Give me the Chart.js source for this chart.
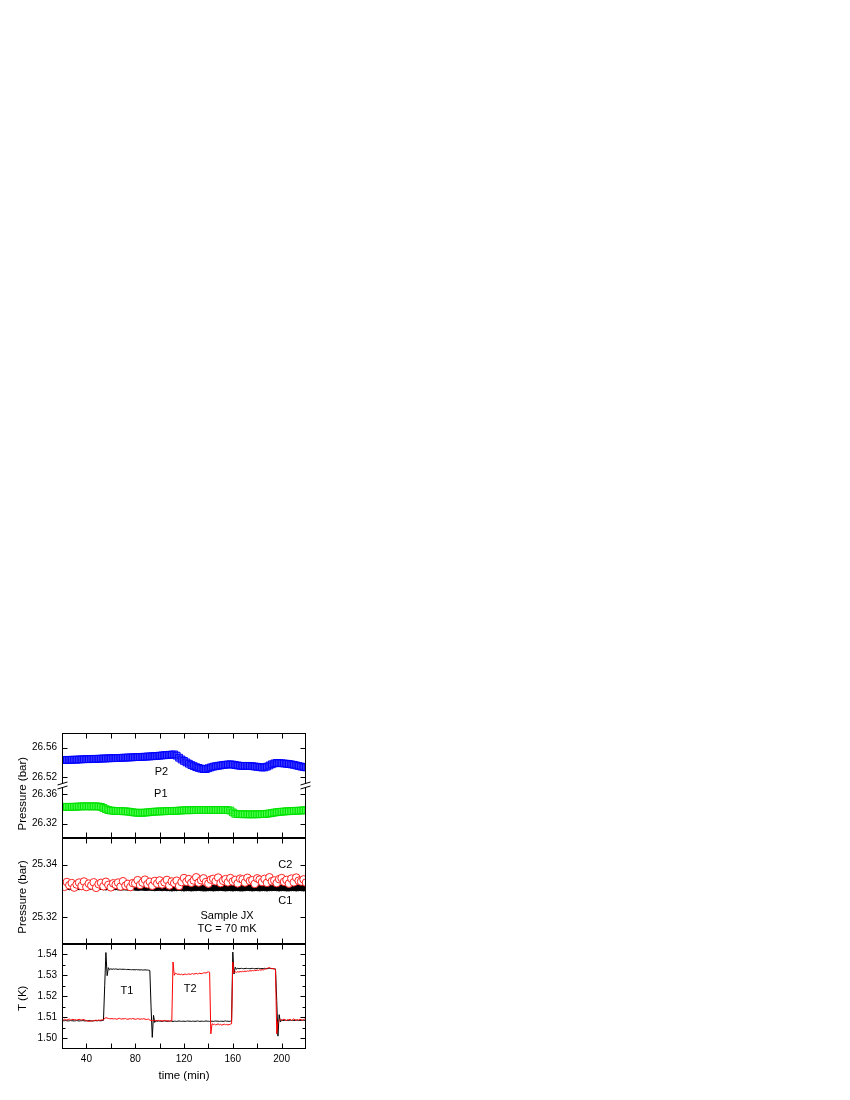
<!DOCTYPE html>
<html>
<head>
<meta charset="utf-8">
<script src="https://cdn.jsdelivr.net/npm/chart.js@4.4.1/dist/chart.umd.min.js"></script>
<style>
  html, body { margin: 0; padding: 0; background: #fff; }
  #wrap { position: relative; width: 850px; height: 1100px; }
  #fig { position: absolute; left: 0; top: 700px; }
</style>
</head>
<body>
<div id="wrap"><canvas id="fig" width="330" height="400"></canvas></div>
<script>
// sample times (min)
function range(a, b, step) {
    const out = [];
    for (let v = a; v <= b + 1e-9; v += step) out.push(v);
    return out;
}
const tP = range(20, 220, 2);   // pressure sampling
const tT = range(20, 220, 1);   // temperature sampling

// P2 (bar), upper part of top panel
const P2 = [
    26.5430, 26.5431, 26.5433, 26.5432, 26.5434, 26.5436, 26.5435, 26.5438, 26.5440, 26.5441,
    26.5443, 26.5442, 26.5445, 26.5447, 26.5446, 26.5448, 26.5450, 26.5451, 26.5452, 26.5454,
    26.5455, 26.5456, 26.5458, 26.5457, 26.5460, 26.5462, 26.5463, 26.5465, 26.5466, 26.5468,
    26.5470, 26.5471, 26.5472, 26.5474, 26.5476, 26.5478, 26.5480, 26.5482, 26.5484, 26.5487,
    26.5490, 26.5493, 26.5496, 26.5499, 26.5502, 26.5505, 26.5507, 26.5490, 26.5462, 26.5438,
    26.5418, 26.5398, 26.5380, 26.5362, 26.5347, 26.5333, 26.5322, 26.5313, 26.5307, 26.5308,
    26.5318, 26.5330, 26.5340, 26.5346, 26.5352, 26.5357, 26.5362, 26.5366, 26.5370, 26.5372,
    26.5368, 26.5362, 26.5356, 26.5352, 26.5350, 26.5350, 26.5351, 26.5349, 26.5346, 26.5342,
    26.5338, 26.5333, 26.5328, 26.5330, 26.5340, 26.5356, 26.5372, 26.5384, 26.5390, 26.5390,
    26.5386, 26.5383, 26.5380, 26.5376, 26.5371, 26.5365, 26.5357, 26.5349, 26.5341, 26.5335,
    26.5330
];

// P1 (bar), lower part of top panel
const P1 = [
    26.3430, 26.3431, 26.3429, 26.3430, 26.3432, 26.3431, 26.3433, 26.3435, 26.3436, 26.3438,
    26.3437, 26.3438, 26.3436, 26.3437, 26.3438, 26.3435, 26.3430, 26.3415, 26.3398, 26.3386,
    26.3380, 26.3377, 26.3375, 26.3374, 26.3372, 26.3370, 26.3369, 26.3366, 26.3362, 26.3356,
    26.3352, 26.3350, 26.3349, 26.3350, 26.3352, 26.3354, 26.3358, 26.3362, 26.3365, 26.3366,
    26.3368, 26.3369, 26.3370, 26.3372, 26.3373, 26.3374, 26.3375, 26.3377, 26.3379, 26.3381,
    26.3383, 26.3384, 26.3385, 26.3384, 26.3386, 26.3387, 26.3386, 26.3388, 26.3387, 26.3386,
    26.3387, 26.3388, 26.3387, 26.3386, 26.3387, 26.3388, 26.3387, 26.3386, 26.3385, 26.3380,
    26.3355, 26.3336, 26.3331, 26.3330, 26.3329, 26.3330, 26.3328, 26.3327, 26.3328, 26.3329,
    26.3328, 26.3330, 26.3331, 26.3333, 26.3336, 26.3340, 26.3346, 26.3352, 26.3357, 26.3361,
    26.3364, 26.3367, 26.3369, 26.3371, 26.3373, 26.3375, 26.3377, 26.3378, 26.3380, 26.3382,
    26.3384
];

// C2 (bar), open red circles
const C2 = [
    25.3327, 25.3316, 25.3334, 25.3322, 25.3330, 25.3313, 25.3325, 25.3332, 25.3319, 25.3336,
    25.3315, 25.3328, 25.3321, 25.3333, 25.3312, 25.3326, 25.3331, 25.3318, 25.3335, 25.3323,
    25.3314, 25.3329, 25.3324, 25.3332, 25.3317, 25.3337, 25.3320, 25.3327, 25.3315, 25.3330,
    25.3329, 25.3341, 25.3323, 25.3332, 25.3343, 25.3326, 25.3335, 25.3320, 25.3338, 25.3328,
    25.3340, 25.3325, 25.3333, 25.3342, 25.3321, 25.3336, 25.3330, 25.3339, 25.3319, 25.3334,
    25.3349, 25.3335, 25.3345, 25.3331, 25.3340, 25.3352, 25.3332, 25.3341, 25.3348, 25.3334,
    25.3328, 25.3343, 25.3346, 25.3337, 25.3351, 25.3330, 25.3339, 25.3345, 25.3333, 25.3349,
    25.3336, 25.3342, 25.3329, 25.3347, 25.3344, 25.3332, 25.3350, 25.3338, 25.3341, 25.3327,
    25.3348, 25.3343, 25.3334, 25.3346, 25.3331, 25.3352, 25.3337, 25.3340, 25.3330, 25.3345,
    25.3349, 25.3335, 25.3342, 25.3328, 25.3347, 25.3333, 25.3351, 25.3339, 25.3336, 25.3344,
    25.3332
];

// C1 (bar), filled black circles
const C1 = [
    25.3317, 25.3318, 25.3317, 25.3316, 25.3317, 25.3318, 25.3317, 25.3316, 25.3317, 25.3317,
    25.3316, 25.3317, 25.3318, 25.3317, 25.3316, 25.3316, 25.3317, 25.3316, 25.3315, 25.3316,
    25.3316, 25.3315, 25.3316, 25.3315, 25.3314, 25.3315, 25.3315, 25.3314, 25.3314, 25.3315,
    25.3314, 25.3313, 25.3314, 25.3314, 25.3313, 25.3313, 25.3314, 25.3313, 25.3312, 25.3313,
    25.3313, 25.3312, 25.3313, 25.3312, 25.3312, 25.3311, 25.3312, 25.3312, 25.3313, 25.3312,
    25.3311, 25.3312, 25.3312, 25.3311, 25.3312, 25.3312, 25.3313, 25.3312, 25.3311, 25.3311,
    25.3312, 25.3312, 25.3311, 25.3312, 25.3312, 25.3313, 25.3312, 25.3311, 25.3312, 25.3312,
    25.3311, 25.3312, 25.3312, 25.3311, 25.3311, 25.3312, 25.3313, 25.3312, 25.3311, 25.3312,
    25.3312, 25.3311, 25.3312, 25.3312, 25.3311, 25.3312, 25.3312, 25.3313, 25.3312, 25.3311,
    25.3312, 25.3312, 25.3311, 25.3311, 25.3312, 25.3312, 25.3311, 25.3312, 25.3312, 25.3311,
    25.3312
];

// T1 (K), black line
const T1 = [
    1.5085, 1.5084, 1.5084, 1.5085, 1.5084, 1.5083, 1.5084, 1.5085, 1.5084, 1.5084,
    1.5083, 1.5084, 1.5085, 1.5084, 1.5083, 1.5084, 1.5084, 1.5085, 1.5084, 1.5083,
    1.5084, 1.5084, 1.5085, 1.5084, 1.5084, 1.5083, 1.5084, 1.5085, 1.5084, 1.5084,
    1.5085, 1.5084, 1.5084, 1.5085, 1.5086, 1.5250, 1.5408, 1.5298, 1.5336, 1.5326,
    1.5331, 1.5328, 1.5330, 1.5329, 1.5330, 1.5329, 1.5328, 1.5329, 1.5329, 1.5328,
    1.5329, 1.5328, 1.5328, 1.5327, 1.5328, 1.5327, 1.5327, 1.5326, 1.5327, 1.5326,
    1.5326, 1.5327, 1.5326, 1.5326, 1.5325, 1.5326, 1.5325, 1.5325, 1.5326, 1.5325,
    1.5325, 1.5324, 1.5323, 1.5150, 1.5005, 1.5110, 1.5076, 1.5085, 1.5081, 1.5083,
    1.5082, 1.5082, 1.5081, 1.5082, 1.5083, 1.5082, 1.5081, 1.5082, 1.5082, 1.5083,
    1.5082, 1.5081, 1.5082, 1.5082, 1.5081, 1.5082, 1.5083, 1.5082, 1.5081, 1.5082,
    1.5082, 1.5081, 1.5082, 1.5083, 1.5082, 1.5082, 1.5081, 1.5082, 1.5082, 1.5081,
    1.5082, 1.5083, 1.5082, 1.5081, 1.5082, 1.5082, 1.5081, 1.5082, 1.5083, 1.5082,
    1.5082, 1.5081, 1.5082, 1.5082, 1.5081, 1.5082, 1.5083, 1.5082, 1.5082, 1.5081,
    1.5082, 1.5082, 1.5081, 1.5082, 1.5083, 1.5082, 1.5082, 1.5081, 1.5082, 1.5084,
    1.5410, 1.5306, 1.5338, 1.5328, 1.5334, 1.5331, 1.5332, 1.5333, 1.5332, 1.5331,
    1.5332, 1.5333, 1.5332, 1.5332, 1.5331, 1.5332, 1.5333, 1.5332, 1.5331, 1.5332,
    1.5332, 1.5333, 1.5332, 1.5331, 1.5332, 1.5332, 1.5333, 1.5332, 1.5331, 1.5332,
    1.5333, 1.5332, 1.5332, 1.5331, 1.5330, 1.5330, 1.5180, 1.5011, 1.5113, 1.5078,
    1.5089, 1.5085, 1.5086, 1.5087, 1.5086, 1.5085, 1.5086, 1.5087, 1.5086, 1.5086,
    1.5085, 1.5086, 1.5087, 1.5086, 1.5085, 1.5086, 1.5086, 1.5087, 1.5086, 1.5085,
    1.5086
];

// T2 (K), red line
const T2 = [
    1.5090, 1.5088, 1.5091, 1.5089, 1.5087, 1.5090, 1.5092, 1.5088, 1.5089, 1.5091,
    1.5088, 1.5090, 1.5087, 1.5089, 1.5091, 1.5089, 1.5088, 1.5090, 1.5089, 1.5087,
    1.5084, 1.5082, 1.5081, 1.5083, 1.5082, 1.5084, 1.5083, 1.5086, 1.5087, 1.5085,
    1.5088, 1.5086, 1.5087, 1.5089, 1.5088, 1.5096, 1.5098, 1.5097, 1.5095, 1.5094,
    1.5093, 1.5095, 1.5092, 1.5094, 1.5093, 1.5091, 1.5094, 1.5096, 1.5093, 1.5092,
    1.5094, 1.5093, 1.5095, 1.5092, 1.5091, 1.5093, 1.5094, 1.5092, 1.5095, 1.5093,
    1.5091, 1.5092, 1.5094, 1.5093, 1.5091, 1.5093, 1.5092, 1.5094, 1.5092, 1.5090,
    1.5091, 1.5092, 1.5087, 1.5086, 1.5084, 1.5086, 1.5085, 1.5083, 1.5085, 1.5086,
    1.5084, 1.5085, 1.5083, 1.5084, 1.5086, 1.5085, 1.5083, 1.5084, 1.5082, 1.5084,
    1.5083, 1.5363, 1.5300, 1.5310, 1.5307, 1.5304, 1.5306, 1.5303, 1.5305, 1.5302,
    1.5304, 1.5306, 1.5303, 1.5305, 1.5307, 1.5304, 1.5306, 1.5308, 1.5305, 1.5307,
    1.5309, 1.5306, 1.5308, 1.5310, 1.5307, 1.5309, 1.5311, 1.5312, 1.5310, 1.5314,
    1.5316, 1.5314, 1.5022, 1.5070, 1.5066, 1.5068, 1.5064, 1.5067, 1.5069, 1.5065,
    1.5067, 1.5063, 1.5066, 1.5068, 1.5065, 1.5067, 1.5064, 1.5066, 1.5068, 1.5070,
    1.5363, 1.5312, 1.5316, 1.5314, 1.5317, 1.5315, 1.5318, 1.5316, 1.5319, 1.5317,
    1.5320, 1.5318, 1.5321, 1.5319, 1.5322, 1.5320, 1.5323, 1.5321, 1.5324, 1.5322,
    1.5325, 1.5323, 1.5326, 1.5324, 1.5327, 1.5325, 1.5328, 1.5330, 1.5332, 1.5335,
    1.5337, 1.5333, 1.5331, 1.5333, 1.5330, 1.5328, 1.5022, 1.5080, 1.5087, 1.5090,
    1.5086, 1.5089, 1.5092, 1.5087, 1.5085, 1.5090, 1.5088, 1.5091, 1.5086, 1.5089,
    1.5093, 1.5088, 1.5086, 1.5090, 1.5087, 1.5091, 1.5089, 1.5086, 1.5090, 1.5092,
    1.5088
];

// ticks
const xTickLabels = [40, 80, 120, 160, 200];
const xTickMarks = [40, 60, 80, 100, 120, 140, 160, 180, 200];
const yTicksP2 = [26.52, 26.56];
const yTicksP1 = [26.32, 26.36];
const yTicksC = [25.32, 25.34];
const yTicksT = [1.50, 1.51, 1.52, 1.53, 1.54];
const yMinorT = [1.505, 1.515, 1.525, 1.535];

// in-plot labels: [text, x (min), y value, axis]
const notes = [
    ['P2', 101.5, 26.5264, 'yP2'],
    ['P1', 101.0, 26.3604, 'yP1'],
    ['C2', 203.0, 25.3400, 'yC'],
    ['C1', 203.0, 25.3262, 'yC'],
    ['Sample JX', 155.3, 25.3205, 'yC'],
    ['TC = 70 mK', 155.3, 25.3155, 'yC'],
    ['T1', 73.2, 1.5224, 'yT'],
    ['T2', 125.0, 1.5233, 'yT']
];

const FONT = "'Liberation Sans', Arial, sans-serif";
const pts = (xs, ys) => ys.map((v, i) => ({ x: xs[i], y: v }));

// frames, inward ticks, axis break, titles and labels
const panelPlugin = {
    id: 'panelPlugin',
    afterDatasetsDraw: (chart) => {
        const ctx = chart.ctx;
        const s = chart.scales;
        const L = Math.round(chart.chartArea.left) + 0.5;
        const R = Math.round(chart.chartArea.right) - 0.5;
        const panels = [
            [s.yP2.top, s.yP1.bottom],
            [s.yC.top, s.yC.bottom],
            [s.yT.top, s.yT.bottom]
        ];
        ctx.save();
        ctx.strokeStyle = '#000';
        ctx.lineWidth = 1;

        panels.forEach(([top, bottom]) => {
            const t = Math.round(top) + 0.5;
            const b = Math.round(bottom) - 0.5;
            ctx.strokeRect(L, t, R - L, b - t);
            ctx.beginPath();
            xTickMarks.forEach(v => {
                const x = Math.round(s.x.getPixelForValue(v)) + 0.5;
                ctx.moveTo(x, t); ctx.lineTo(x, t + 5);
                ctx.moveTo(x, b); ctx.lineTo(x, b - 5);
            });
            ctx.stroke();
        });

        const yTicks = (scale, list, len) => {
            ctx.beginPath();
            list.forEach(v => {
                const y = Math.round(scale.getPixelForValue(v)) + 0.5;
                ctx.moveTo(L, y); ctx.lineTo(L + len, y);
                ctx.moveTo(R, y); ctx.lineTo(R - len, y);
            });
            ctx.stroke();
        };
        yTicks(s.yP2, yTicksP2, 5);
        yTicks(s.yP1, yTicksP1, 5);
        yTicks(s.yC, yTicksC, 5);
        yTicks(s.yT, yTicksT, 5);
        yTicks(s.yT, yMinorT, 3);

        // axis break marks
        const yb = Math.round(s.yP2.bottom);
        [L, R].forEach(x => {
            ctx.fillStyle = '#fff';
            ctx.fillRect(x - 5, yb - 2, 10, 4);
            ctx.beginPath();
            ctx.moveTo(x - 5, yb - 1); ctx.lineTo(x + 5, yb - 4);
            ctx.moveTo(x - 5, yb + 3); ctx.lineTo(x + 5, yb);
            ctx.stroke();
        });

        // axis titles
        ctx.fillStyle = '#000';
        ctx.font = '11.5px ' + FONT;
        ctx.textAlign = 'center';
        ctx.textBaseline = 'middle';
        const vTitle = (text, y) => {
            ctx.save();
            ctx.translate(23, y);
            ctx.rotate(-Math.PI / 2);
            ctx.fillText(text, 0, 0);
            ctx.restore();
        };
        vTitle('Pressure (bar)', (s.yP2.top + s.yP1.bottom) / 2 + 8);
        vTitle('Pressure (bar)', (s.yC.top + s.yC.bottom) / 2 + 6);
        vTitle('T (K)', (s.yT.top + s.yT.bottom) / 2 + 2);
        ctx.fillText('time (min)', (chart.chartArea.left + chart.chartArea.right) / 2, s.yT.bottom + 27);

        // labels inside panels
        ctx.font = '11px ' + FONT;
        notes.forEach(([text, xv, yv, axis]) => {
            ctx.fillText(text, s.x.getPixelForValue(xv), s[axis].getPixelForValue(yv));
        });
        ctx.restore();
    }
};

const yAxis = (min, max, weight, ticks, digits) => ({
    type: 'linear',
    position: 'left',
    stack: 'panels',
    stackWeight: weight,
    min: min,
    max: max,
    grid: { display: false, drawTicks: false },
    border: { display: false },
    afterBuildTicks: (scale) => { scale.ticks = ticks.map(v => ({ value: v })); },
    afterFit: (scale) => { scale.width = 62; },
    ticks: {
        padding: 5,
        color: '#000',
        font: { family: FONT, size: 10 },
        callback: (v) => Number(v).toFixed(digits)
    }
});

var figCtx = document.getElementById('fig').getContext('2d');
var figChart = new Chart(figCtx, {
    type: 'scatter',
    data: {
        datasets: [{
            data: pts(tP, P2),
            yAxisID: 'yP2',
            pointStyle: 'rect',
            pointRadius: 4.8,
            borderWidth: 1,
            borderColor: '#0000ff',
            backgroundColor: 'rgba(40, 40, 255, 0.5)',
            showLine: false
        }, {
            data: pts(tP, P1),
            yAxisID: 'yP1',
            pointStyle: 'rect',
            pointRadius: 4.8,
            borderWidth: 1,
            borderColor: '#00e000',
            backgroundColor: 'rgba(60, 255, 60, 0.5)',
            showLine: false
        }, {
            data: pts(tP, C1),
            yAxisID: 'yC',
            pointStyle: 'circle',
            pointRadius: 3,
            borderWidth: 1,
            borderColor: '#000',
            backgroundColor: '#000',
            showLine: false,
            order: 2
        }, {
            data: pts(tP, C2),
            yAxisID: 'yC',
            pointStyle: 'circle',
            pointRadius: 3.8,
            borderWidth: 1,
            borderColor: '#ff2020',
            backgroundColor: '#ffffff',
            showLine: false,
            order: 1
        }, {
            data: pts(tT, T1),
            yAxisID: 'yT',
            showLine: true,
            pointRadius: 0,
            borderWidth: 1,
            borderColor: '#000',
            order: 2
        }, {
            data: pts(tT, T2),
            yAxisID: 'yT',
            showLine: true,
            pointRadius: 0,
            borderWidth: 1,
            borderColor: '#ff0000',
            order: 1
        }]
    },
    options: {
        responsive: false,
        animation: false,
        layout: { padding: { left: 0, right: 24, top: 33, bottom: 0 } },
        scales: {
            x: {
                type: 'linear',
                position: 'bottom',
                min: 20,
                max: 220,
                grid: { display: false, drawTicks: false },
                border: { display: false },
                afterBuildTicks: (scale) => { scale.ticks = xTickLabels.map(v => ({ value: v })); },
                afterFit: (scale) => { scale.height = 51; },
                ticks: {
                    padding: 4,
                    maxRotation: 0,
                    color: '#000',
                    font: { family: FONT, size: 10 }
                }
            },
            yT: yAxis(1.495, 1.545, 2, yTicksT, 2),
            yC: yAxis(25.31, 25.35, 2, yTicksC, 2),
            yP1: yAxis(26.300, 26.372, 1, yTicksP1, 2),
            yP2: yAxis(26.508, 26.580, 1, yTicksP2, 2)
        },
        plugins: {
            legend: { display: false },
            tooltip: { enabled: false }
        }
    },
    plugins: [panelPlugin]
});
</script>
</body>
</html>
